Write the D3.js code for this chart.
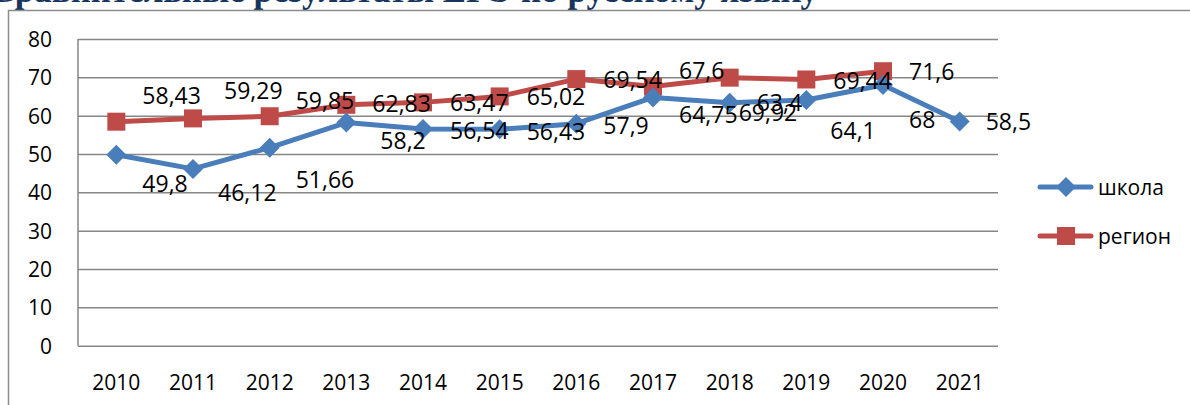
<!DOCTYPE html>
<html>
<head>
<meta charset="utf-8">
<script src="https://cdn.jsdelivr.net/npm/d3@7"></script>
<style>
  body { margin: 0; background: #fff; }
  svg { display: block; }
</style>
</head>
<body>
<div class="container"></div>
<script>
const years = ['2010', '2011', '2012', '2013', '2014', '2015', '2016', '2017', '2018', '2019', '2020', '2021'];
const school = [49.8, 46.12, 51.66, 58.2, 56.54, 56.43, 57.9, 64.75, 63.4, 64.1, 68, 58.5];
const region = [58.43, 59.29, 59.85, 62.83, 63.47, 65.02, 69.54, 67.6, 69.92, 69.44, 71.6];
const yTicks = [0, 10, 20, 30, 40, 50, 60, 70, 80];

// label nudges, as placed by hand in the original
const schoolDx = [26, 25, 26, 34, 27, 27, 27, 26, 27, 24, 26, 26];
const schoolDy = [28, 23, 31, 17, 1, 2, 1, 17, -1, 30, 34, 0];
const regionDx = [26, 31, 26, 26, 27, 27, 27, 26, 9, 27, 26];
const regionDy = [-27, -28, -16, -2, 0, 0, 0, -17, 34, 1, 0];

const width = 1190;
const height = 405;
const plotLeft = 78, plotRight = 998, plotTop = 39, plotBottom = 345.7;

const svg = d3.select('.container')
  .append('svg')
  .attr('width', width)
  .attr('height', height);

// title, mostly cut off at the top
svg.append('text')
  .attr('x', 818)
  .attr('y', 1.5)
  .attr('text-anchor', 'end')
  .style('font-family', '"Liberation Serif", "Times New Roman", serif')
  .style('font-weight', 'bold')
  .style('font-size', '35px')
  .style('fill', '#17365D')
  .text('Сравнительные результаты ЕГЭ по русскому языку');

// chart border
svg.append('rect')
  .attr('x', 8.5)
  .attr('y', 10.5)
  .attr('width', 1300)
  .attr('height', 500)
  .attr('fill', 'none')
  .attr('stroke', '#8c8c8c')
  .attr('stroke-width', 1.5);

const x = d3.scalePoint()
  .domain(years)
  .range([plotLeft, plotRight])
  .padding(0.5);

const y = d3.scaleLinear()
  .domain([0, 80])
  .range([plotBottom, plotTop]);

const font = '"Open Sans", "Noto Sans", sans-serif';

// gridlines
const yAxis = d3.axisLeft(y)
  .tickValues(yTicks)
  .tickSize(-(plotRight - plotLeft))
  .tickFormat('');

svg.append('g')
  .attr('transform', `translate(${plotLeft}, 0)`)
  .call(yAxis)
  .call(g => g.select('.domain').remove())
  .call(g => g.selectAll('line').attr('stroke', '#868686').attr('stroke-width', 1.5));

// left axis line
svg.append('line')
  .attr('x1', plotLeft).attr('x2', plotLeft)
  .attr('y1', plotTop).attr('y2', plotBottom)
  .attr('stroke', '#868686')
  .attr('stroke-width', 1.5);

svg.selectAll('.ylab')
  .data(yTicks)
  .enter()
  .append('text')
  .attr('class', 'ylab')
  .attr('x', 52)
  .attr('y', d => y(d))
  .attr('text-anchor', 'end')
  .attr('dominant-baseline', 'central')
  .style('font-family', font)
  .style('font-size', '21px')
  .text(d => d);

svg.selectAll('.xlab')
  .data(years)
  .enter()
  .append('text')
  .attr('class', 'xlab')
  .attr('x', d => x(d))
  .attr('y', 382)
  .attr('text-anchor', 'middle')
  .attr('dominant-baseline', 'central')
  .style('font-family', font)
  .style('font-size', '21px')
  .text(d => d);

const line = d3.line()
  .x((d, i) => x(years[i]))
  .y(d => y(d));

const blue = '#4A7EBB';
const red = '#BE4B48';

// region
svg.append('path')
  .datum(region)
  .attr('d', line)
  .attr('fill', 'none')
  .attr('stroke', red)
  .attr('stroke-width', 5)
  .attr('stroke-linejoin', 'round');

svg.selectAll('.sq')
  .data(region)
  .enter()
  .append('rect')
  .attr('class', 'sq')
  .attr('x', (d, i) => x(years[i]) - 9)
  .attr('y', d => y(d) - 9)
  .attr('width', 18)
  .attr('height', 18)
  .attr('fill', red);

// school
svg.append('path')
  .datum(school)
  .attr('d', line)
  .attr('fill', 'none')
  .attr('stroke', blue)
  .attr('stroke-width', 5)
  .attr('stroke-linejoin', 'round');

const diamond = 'M0,-10L10,0L0,10L-10,0Z';

svg.selectAll('.dm')
  .data(school)
  .enter()
  .append('path')
  .attr('class', 'dm')
  .attr('d', diamond)
  .attr('transform', (d, i) => `translate(${x(years[i])}, ${y(d)})`)
  .attr('fill', blue);

const fmt = v => String(v).replace('.', ',');

svg.selectAll('.rlab')
  .data(region)
  .enter()
  .append('text')
  .attr('class', 'rlab')
  .attr('x', (d, i) => x(years[i]) + regionDx[i])
  .attr('y', (d, i) => y(d) + regionDy[i])
  .attr('dominant-baseline', 'central')
  .style('font-family', font)
  .style('font-size', '23px')
  .text(fmt);

svg.selectAll('.slab')
  .data(school)
  .enter()
  .append('text')
  .attr('class', 'slab')
  .attr('x', (d, i) => x(years[i]) + schoolDx[i])
  .attr('y', (d, i) => y(d) + schoolDy[i])
  .attr('dominant-baseline', 'central')
  .style('font-family', font)
  .style('font-size', '23px')
  .text(fmt);

// legend
const legend = [
  { name: 'школа', color: blue, shape: 'diamond', y: 187 },
  { name: 'регион', color: red, shape: 'square', y: 236 }
];

legend.forEach(l => {
  svg.append('line')
    .attr('x1', 1040).attr('x2', 1091)
    .attr('y1', l.y).attr('y2', l.y)
    .attr('stroke', l.color)
    .attr('stroke-width', 5)
    .attr('stroke-linecap', 'round');
  if (l.shape === 'diamond') {
    svg.append('path')
      .attr('d', diamond)
      .attr('transform', `translate(1066, ${l.y})`)
      .attr('fill', l.color);
  } else {
    svg.append('rect')
      .attr('x', 1057).attr('y', l.y - 9)
      .attr('width', 18).attr('height', 18)
      .attr('fill', l.color);
  }
  svg.append('text')
    .attr('x', 1098)
    .attr('y', l.y)
    .attr('dominant-baseline', 'central')
    .style('font-family', font)
    .style('font-size', '21px')
    .text(l.name);
});
</script>
</body>
</html>
